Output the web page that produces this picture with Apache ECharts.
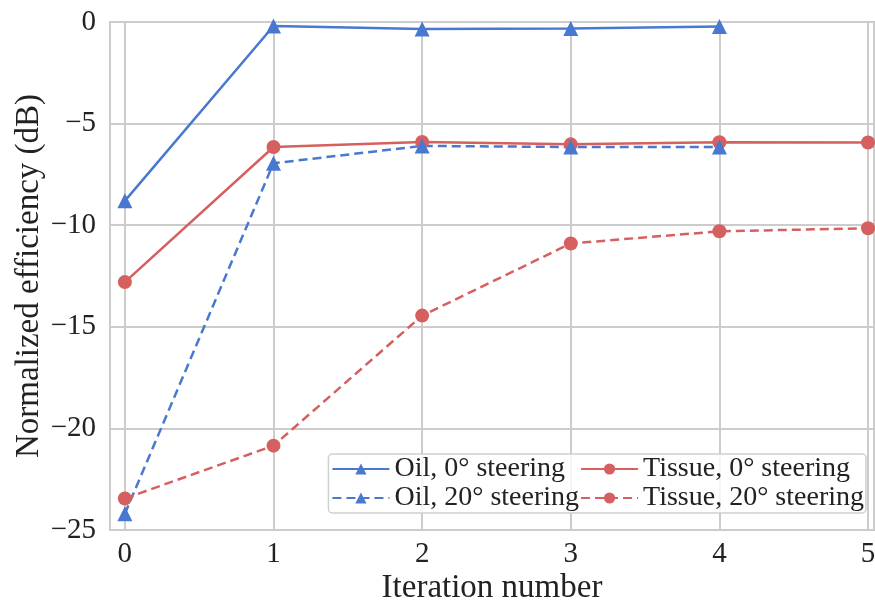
<!DOCTYPE html>
<html>
<head>
<meta charset="utf-8">
<script src="https://cdn.jsdelivr.net/npm/echarts@6/dist/echarts.min.js"></script>
<style>
html,body{margin:0;padding:0;background:#fff;}
#chart{width:875px;height:602px;}
</style>
</head>
<body>
<div id="chart"></div>
<script>
var iterations = [0, 1, 2, 3, 4, 5];
var oil0 = [-8.8, -0.2, -0.35, -0.32, -0.22];
var oil20 = [-24.2, -6.95, -6.1, -6.15, -6.15];
var tissue0 = [-12.8, -6.15, -5.9, -6.02, -5.92, -5.93];
var tissue20 = [-23.45, -20.85, -14.45, -10.9, -10.3, -10.15];
var yTicks = [0, -5, -10, -15, -20, -25];

var blue = '#4878cf';
var red = '#d65f5f';
var font = '"Liberation Serif", "Times New Roman", serif';

function pts(vals) { return vals.map(function (v, i) { return [iterations[i], v]; }); }

var chart = echarts.init(document.getElementById('chart'), null, {renderer: 'canvas'});
chart.setOption({
  animation: false,
  textStyle: {fontFamily: font},
  grid: {left: 110, right: 1, top: 22, bottom: 72, show: true, borderColor: '#cccccc', borderWidth: 2,
         containLabel: false, outerBoundsMode: 'none'},
  legend: {
    orient: 'vertical',
    right: 9, bottom: 89,
    height: 58,
    itemWidth: 57, itemHeight: 14, itemGap: 1,
    padding: [1, 2, 1, 3],
    backgroundColor: 'rgba(255,255,255,0.8)',
    borderColor: '#d0d0d0', borderWidth: 1.5, borderRadius: 4,
    textStyle: {fontFamily: font, fontSize: 28, color: '#222', lineHeight: 28},
    data: ['Oil, 0° steering', 'Oil, 20° steering', 'Tissue, 0° steering', 'Tissue, 20° steering']
  },
  xAxis: {
    type: 'value', min: -0.1, max: 5.04,
    name: 'Iteration number', nameLocation: 'middle', nameGap: 42,
    nameMoveOverlap: false,
    nameTextStyle: {fontFamily: font, fontSize: 33, color: '#222'},
    axisLine: {show: false},
    axisTick: {show: false, customValues: iterations},
    axisLabel: {fontFamily: font, fontSize: 29, color: '#222', margin: 10,
      customValues: iterations, formatter: function (v) { return String(v); }},
    splitLine: {show: true, lineStyle: {color: '#cccccc', width: 2}}
  },
  yAxis: {
    type: 'value', min: -25, max: 0, interval: 5,
    name: 'Normalized efficiency (dB)', nameLocation: 'middle', nameGap: 64,
    nameMoveOverlap: false,
    nameTextStyle: {fontFamily: font, fontSize: 33, color: '#222'},
    axisLine: {show: false}, axisTick: {show: false},
    axisLabel: {fontFamily: font, fontSize: 29, color: '#222', margin: 14,
      formatter: function (v) { return v < 0 ? '\u2212' + Math.abs(v) : String(v); }},
    splitLine: {show: true, lineStyle: {color: '#cccccc', width: 2}}
  },
  series: [
    {name: 'Oil, 0° steering', type: 'line', data: pts(oil0), symbol: 'triangle', symbolSize: 15,
     lineStyle: {color: blue, width: 2.5}, itemStyle: {color: blue}},
    {name: 'Tissue, 0° steering', type: 'line', data: pts(tissue0), symbol: 'circle', symbolSize: 14,
     lineStyle: {color: red, width: 2.5}, itemStyle: {color: red}},
    {name: 'Oil, 20° steering', type: 'line', data: pts(oil20), symbol: 'triangle', symbolSize: 15,
     lineStyle: {color: blue, width: 2.5, type: [9, 5]}, itemStyle: {color: blue}},
    {name: 'Tissue, 20° steering', type: 'line', data: pts(tissue20), symbol: 'circle', symbolSize: 14,
     lineStyle: {color: red, width: 2.5, type: [9, 5]}, itemStyle: {color: red}}
  ]
});
</script>
</body>
</html>
